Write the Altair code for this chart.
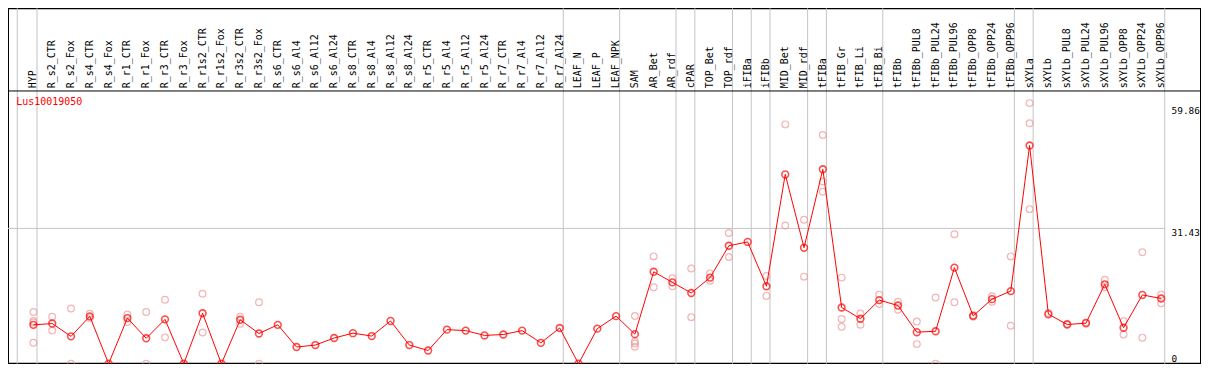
import altair as alt
import pandas as pd

gene = "Lus10019050"

categories = [
    "HYP", "R_s2_CTR", "R_s2_Fox", "R_s4_CTR", "R_s4_Fox", "R_r1_CTR", "R_r1_Fox",
    "R_r3_CTR", "R_r3_Fox", "R_r1s2_CTR", "R_r1s2_Fox", "R_r3s2_CTR", "R_r3s2_Fox",
    "R_s6_CTR", "R_s6_Al4", "R_s6_Al12", "R_s6_Al24", "R_s8_CTR", "R_s8_Al4",
    "R_s8_Al12", "R_s8_Al24", "R_r5_CTR", "R_r5_Al4", "R_r5_Al12", "R_r5_Al24",
    "R_r7_CTR", "R_r7_Al4", "R_r7_Al12", "R_r7_Al24", "LEAF_N", "LEAF_P", "LEAF_NPK",
    "SAM", "AR_Bet", "AR_rdf", "cPAR", "TOP_Bet", "TOP_rdf", "iFIBa", "iFIBb",
    "MID_Bet", "MID_rdf", "tFIBa", "tFIB_Gr", "tFIB_Li", "tFIB_Bi", "tFIBb",
    "tFIBb_PUL8", "tFIBb_PUL24", "tFIBb_PUL96", "tFIBb_OPP8", "tFIBb_OPP24",
    "tFIBb_OPP96", "sXYLa", "sXYLb", "sXYLb_PUL8", "sXYLb_PUL24", "sXYLb_PUL96",
    "sXYLb_OPP8", "sXYLb_OPP24", "sXYLb_OPP96",
]

means = [
    9.03, 9.33, 6.35, 11.0, 0.0, 10.6, 5.9, 10.3, 0.0, 11.72, 0.0, 10.2, 7.02,
    9.03, 3.88, 4.33, 5.97, 7.09, 6.42, 9.93, 4.33, 3.06, 7.91, 7.69, 6.57,
    6.79, 7.69, 4.85, 8.29, 0.0, 8.14, 11.05,
    6.87, 21.35, 18.89, 16.42, 20.0, 27.4, 28.29, 17.99,
    43.97, 26.95, 45.17, 13.06, 10.45, 14.78, 13.51,
    7.32, 7.54, 22.32, 11.12, 15.0,
    16.87, 50.69, 11.5, 9.11, 9.41, 18.44,
    8.36, 15.98, 15.15,
]

replicates = [
    [12.0, 9.93, 9.56, 4.85], [10.9, 7.69], [12.84, 0.0], [11.6, 10.6], [],
    [11.42, 9.7], [12.02, 0.0], [14.86, 6.12], [], [16.27, 7.24], [],
    [10.9, 9.3], [14.26, 0.0],
    [], [], [], [], [], [], [], [], [], [], [], [], [], [], [], [], [], [], [],
    [11.06, 5.15, 4.7, 3.96], [24.93, 17.77], [19.86, 18.0], [22.1, 10.82],
    [20.98, 19.26], [30.38, 24.79], [], [20.38, 15.75],
    [55.6, 32.1], [33.44, 20.23], [53.15, 42.33, 39.94], [20.0, 10.38, 8.59],
    [11.65, 9.03], [16.05, 13.89], [14.41, 12.54],
    [9.78, 4.55], [15.38, 0.0], [30.09, 14.26], [11.27, 10.9], [15.68, 14.41],
    [24.93, 8.81], [60.54, 55.84, 35.91], [11.8], [9.3], [9.6], [19.48, 17.77],
    [9.85, 6.79], [25.9, 6.05], [16.05, 14.04],
]

group_ends = ["HYP", "R_r7_Al24", "LEAF_NPK", "AR_rdf", "cPAR", "TOP_rdf", "iFIBa",
              "iFIBb", "MID_rdf", "tFIBa", "tFIB_Bi", "tFIBb_OPP96", "sXYLa",
              "sXYLb_OPP96"]

tick_values = [59.86, 31.43, 0]
tick_labels = ["59.86", "31.43", "0"]

W, H = 1195, 356
XMIN, XMAX = -1.3526, 62.12
YMAX = 82.57
FONT = "DejaVu Sans Mono"

xs = alt.Scale(domain=[XMIN, XMAX], nice=False, zero=False)
ys = alt.Scale(domain=[0, YMAX], nice=False, zero=False)

mean_df = pd.DataFrame({"idx": list(range(len(categories))), "cat": categories, "v": means})
rep_rows = [{"idx": i, "v": v} for i, reps in enumerate(replicates) for v in reps]
rep_df = pd.DataFrame(rep_rows)
sep_df = pd.DataFrame({"pos": [-0.86] + [categories.index(g) + 0.19 for g in group_ends]})
tick_df = pd.DataFrame({"v": tick_values, "lab": tick_labels})
one = pd.DataFrame({"a": [0]})

vlines = alt.Chart(sep_df).mark_rule(color="#c4c4c4", strokeWidth=1).encode(
    x=alt.X("pos:Q", scale=xs, axis=None)
)

hgrid = alt.Chart(one).mark_rule(color="#c4c4c4", strokeWidth=1).encode(
    y=alt.datum(31.43, scale=ys, axis=None),
    x=alt.datum(XMIN, scale=xs, axis=None),
    x2=alt.datum(60.21),
)

header_line = alt.Chart(one).mark_rule(color="black", strokeWidth=1).encode(
    y=alt.datum(63.36, scale=ys, axis=None)
)

reps = alt.Chart(rep_df).mark_point(
    shape="circle", filled=False, size=46, strokeWidth=1.2, color="#ec9a9a", clip=True
).encode(
    x=alt.X("idx:Q", scale=xs, axis=None),
    y=alt.Y("v:Q", scale=ys, axis=None),
)

line = alt.Chart(mean_df).mark_line(color="#ff0000", strokeWidth=1, clip=True).encode(
    x=alt.X("idx:Q", scale=xs, axis=None),
    y=alt.Y("v:Q", scale=ys, axis=None),
    order="idx:Q",
)

pts = alt.Chart(mean_df).mark_point(
    shape="circle", filled=False, size=46, strokeWidth=1.6, color="#ff0000", clip=True
).encode(
    x=alt.X("idx:Q", scale=xs, axis=None),
    y=alt.Y("v:Q", scale=ys, axis=None),
)

header = alt.Chart(mean_df).mark_text(
    angle=270, align="left", baseline="middle", font=FONT, fontSize=10, color="black"
).encode(
    x=alt.X("idx:Q", scale=xs, axis=None),
    y=alt.datum(63.98, scale=ys, axis=None),
    text="cat:N",
)

title = alt.Chart(pd.DataFrame({"t": [gene]})).mark_text(
    align="left", baseline="middle", font=FONT, fontSize=10, color="#ff0000"
).encode(
    x=alt.datum(-0.916, scale=xs, axis=None),
    y=alt.datum(60.84, scale=ys, axis=None),
    text="t:N",
)

ylab_top = alt.Chart(tick_df).transform_filter("datum.v > 0").mark_text(
    align="left", baseline="top", font=FONT, fontSize=9.4, color="black", dy=1, dx=-1
).encode(
    x=alt.datum(60.61, scale=xs, axis=None),
    y=alt.Y("v:Q", scale=ys, axis=None),
    text="lab:N",
)

ylab_zero = alt.Chart(tick_df).transform_filter("datum.v == 0").mark_text(
    align="left", baseline="bottom", font=FONT, fontSize=9.4, color="black", dx=-1
).encode(
    x=alt.datum(60.61, scale=xs, axis=None),
    y=alt.Y("v:Q", scale=ys, axis=None),
    text="lab:N",
)

chart = alt.layer(
    vlines, hgrid, header_line, reps, line, pts, header, title, ylab_top, ylab_zero
).properties(
    width=W, height=H, padding=0,
    autosize=alt.AutoSizeParams(type="none"),
).configure_view(stroke="black", strokeWidth=2)

chart.save("out.html", embed_options={"renderer": "svg", "actions": False})
